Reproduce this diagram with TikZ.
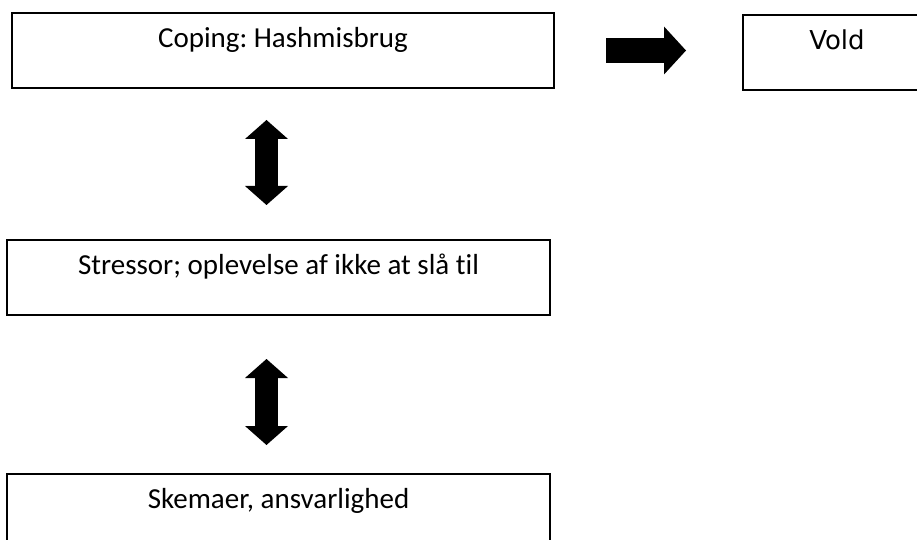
\documentclass[tikz,border=0pt]{standalone}
\usepackage{fontspec}
\setmainfont[Ligatures=NoCommon]{Carlito}
\newfontfamily\dejavu{DejaVu Sans}
\usetikzlibrary{arrows.meta}
\frenchspacing

\begin{document}
\begin{tikzpicture}[x=0.5pt,y=-0.5pt,font=\fontsize{14.5}{17}\selectfont]
		\tikzstyle{box}=[draw=black,line width=1pt,fill=white,inner sep=0pt,
			minimum height=37.5pt,text height=9pt,text depth=12pt]
		\tikzstyle{updown}=[line width=11.5pt,
			{Triangle[length=9.5pt,width=21.5pt,line width=0pt]}-{Triangle[length=9.5pt,width=21.5pt,line width=0pt]}]
		\tikzstyle{fat}=[line width=12.5pt,-{Triangle[length=11pt,width=24pt,line width=0pt]}]

		\clip (0,0) rectangle (917,540);

		\node[box,minimum width=271pt] 		(coping) 	at (283,50.5) 	{Coping: Hashmisbrug};
		\node[box,minimum width=94pt,font=\dejavu\fontsize{13}{16}\selectfont]
											(vold) 		at (837,52.5) 	{Vold};
		\node[box,minimum width=271.5pt] 	(stressor) 	at (278.5,277.5) {Stressor; oplevelse af ikke at slå til};
		\node[box,minimum width=271.5pt] 	(skema) 	at (278.5,511.5) {Skemaer, ansvarlighed};

		\coordinate (ax) at (266.5,0);

		\draw[fat,shorten <=25.5pt,shorten >=28pt] (coping.east) -- (coping.east -| vold.west);
		\draw[updown,shorten <=15.5pt,shorten >=17pt] (coping.south -| ax) -- (stressor.north -| ax);
		\draw[updown,shorten <=21.5pt,shorten >=14pt] (stressor.south -| ax) -- (skema.north -| ax);
\end{tikzpicture}
\end{document}
